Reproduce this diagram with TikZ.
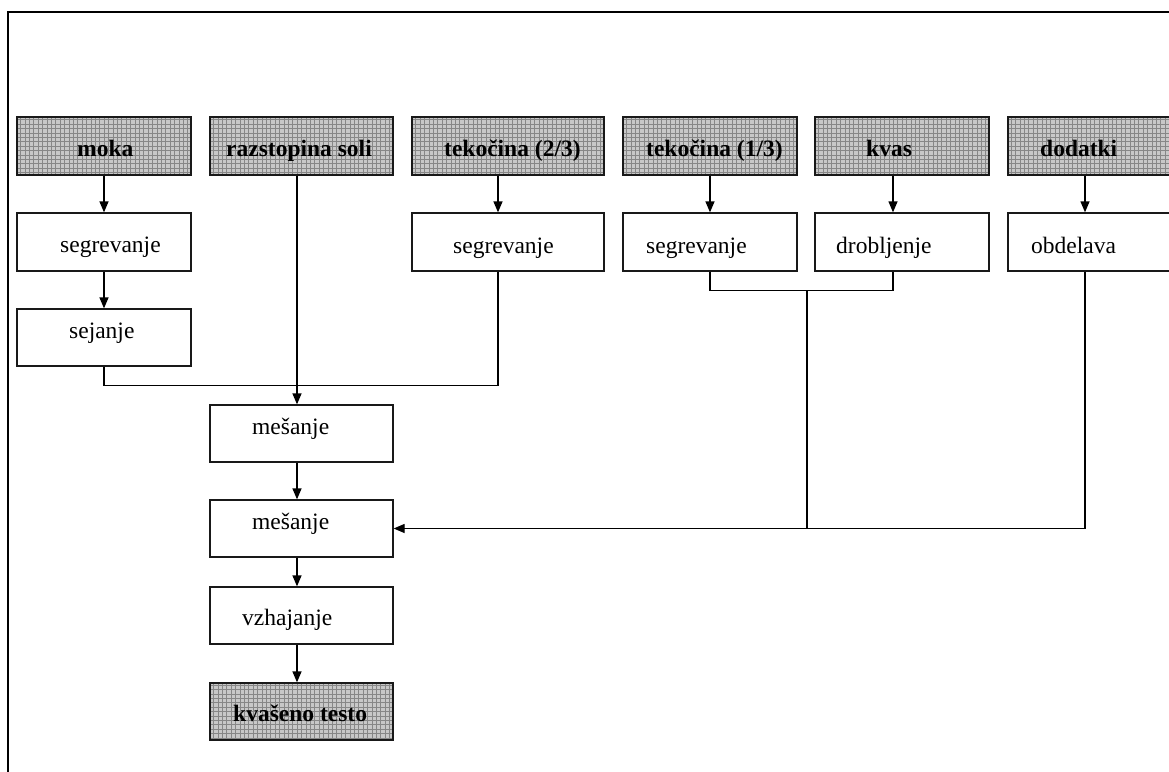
\documentclass[tikz,border=0pt]{standalone}
\usepackage{fontspec}
\setmainfont{Liberation Serif}
\usetikzlibrary{arrows.meta,calc}
\definecolor{gfill}{RGB}{200,200,200}
\definecolor{ggrid}{RGB}{135,135,135}
\begin{document}
\begin{tikzpicture}[x=1pt,y=-1pt,
  font=\fontsize{23.5}{28}\selectfont,
  bx/.style 2 args={draw=black!90, line width=1.3pt, inner sep=0pt, minimum width=#1, minimum height=#2},
  gbox/.style={fill=gfill, path picture={\draw[ggrid,line width=0.45pt] (path picture bounding box.south west) grid[step=4.4pt] (path picture bounding box.north east);}},
  txt/.style={anchor=base west, inner sep=0pt},
  ln/.style={line width=1.3pt, black},
  arr/.style={ln, -{Triangle[length=11pt,width=9pt]}}]
\useasboundingbox (0,0) rectangle (1169,771);
\clip (0,0) rectangle (1169,771);
\fill[white] (0,0) rectangle (1169,771);
% frame
\draw[line width=1.8pt] (8,790) -- (8,12) -- (1190,12);
% top row
\node[bx={174pt}{58pt}, gbox] (moka)  at (104,146)   {};
\node[bx={183pt}{58pt}, gbox] (razst) at (301.5,146) {};
\node[bx={192pt}{58pt}, gbox] (tek2)  at (508,146)   {};
\node[bx={174pt}{58pt}, gbox] (tek1)  at (710,146)   {};
\node[bx={174pt}{58pt}, gbox] (kvas)  at (902,146)   {};
\node[bx={182pt}{58pt}, gbox] (dod)   at (1099,146)  {};
\node[txt] (tmoka)  at (77,156)  {\bfseries moka};
\node[txt] (trazst) at (226,156) {\bfseries razstopina soli};
\node[txt] (ttek2)  at (444,156) {\bfseries tekočina (2/3)};
\node[txt] (ttek1)  at (646,156) {\bfseries tekočina (1/3)};
\node[txt] (tkvas)  at (866,156) {\bfseries kvas};
\node[txt] (tdod)   at (1040,156) {\bfseries dodatki};
% second row
\node[bx={174pt}{58pt}] (seg1) at (104,242)  {};
\node[bx={192pt}{58pt}] (seg2) at (508,242)  {};
\node[bx={174pt}{58pt}] (seg3) at (710,242)  {};
\node[bx={174pt}{58pt}] (drob) at (902,242)  {};
\node[bx={182pt}{58pt}] (obd)  at (1099,242) {};
\node[txt] (tseg1) at (60,252)   {segrevanje};
\node[txt] (tseg2) at (453,253)  {segrevanje};
\node[txt] (tseg3) at (646,253)  {segrevanje};
\node[txt] (tdrob) at (836,253)  {drobljenje};
\node[txt] (tobd)  at (1031,253) {obdelava};
% sejanje
\node[bx={174pt}{57pt}] (sej) at (104,337.5) {};
\node[txt] (tsej) at (69,338) {sejanje};
% middle column
\node[bx={183pt}{57pt}] (mes1) at (301.5,433.5) {};
\node[bx={183pt}{57pt}] (mes2) at (301.5,528.5) {};
\node[bx={183pt}{57pt}] (vzh)  at (301.5,615.5) {};
\node[bx={183pt}{57pt}, gbox] (kt) at (301.5,711.5) {};
\node[txt] (tmes1) at (252,434) {mešanje};
\node[txt] (tmes2) at (252,529) {mešanje};
\node[txt] (tvzh)  at (242,625) {vzhajanje};
\node[txt] (tkt)   at (233,721) {\bfseries kvašeno testo};
% connectors
\draw[arr] (moka.south) -- (seg1.north);
\draw[arr] (seg1.south) -- (sej.north);
\draw[arr] ([xshift=-4.5pt]razst.south) -- ([xshift=-4.5pt]mes1.north);
\draw[arr] ([xshift=-10pt]tek2.south) -- ([xshift=-10pt]seg2.north);
\draw[arr] (tek1.south) -- (seg3.north);
\draw[arr] ([xshift=-9pt]kvas.south) -- ([xshift=-9pt]drob.north);
\draw[arr] ([xshift=-14pt]dod.south) -- ([xshift=-14pt]obd.north);
\draw[ln] (sej.south) -- ++(0,19) -| ([xshift=-10pt]seg2.south);
\draw[ln] (seg3.south) -- ++(0,19) -| ([xshift=-9pt]drob.south);
\coordinate (j) at (807,290);
\draw[ln] (j) -- (j |- mes2.east);
\draw[arr] ([xshift=-14pt]obd.south) |- (mes2.east);
\draw[arr] ([xshift=-4.5pt]mes1.south) -- ([xshift=-4.5pt]mes2.north);
\draw[arr] ([xshift=-4.5pt]mes2.south) -- ([xshift=-4.5pt]vzh.north);
\draw[arr] ([xshift=-4.5pt]vzh.south) -- ([xshift=-4.5pt]kt.north);
\end{tikzpicture}
\end{document}
